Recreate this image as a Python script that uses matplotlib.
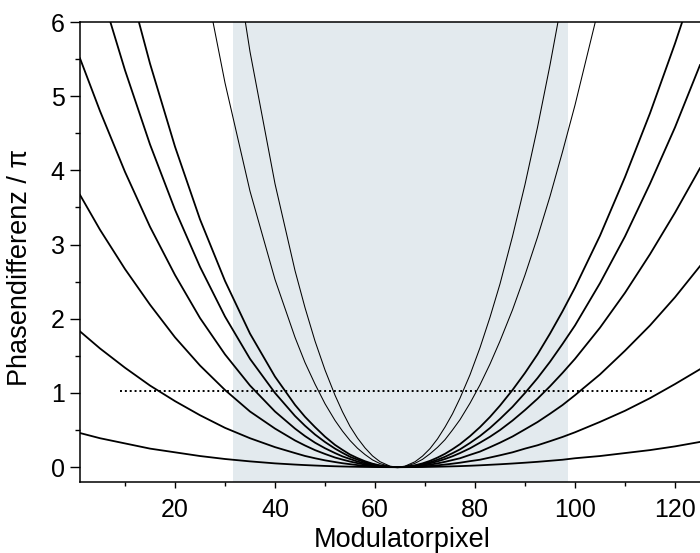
import numpy as np
import matplotlib
matplotlib.use('Agg')
import matplotlib.pyplot as plt
from matplotlib.ticker import MultipleLocator

plt.rcParams['font.family'] = ['Liberation Sans', 'DejaVu Sans']

nan = np.nan

pixel = [1, 5, 10, 15, 20, 25, 30, 35, 40, 44, 46, 48, 50, 52, 53.5, 55, 56.5, 58, 59.5, 61, 63, 64.5,
         66, 68, 69.5, 71, 72.5, 74, 75.5, 77, 79, 81, 83, 85, 87.5, 90, 92.5, 95, 97.5, 100,
         105, 110, 115, 120, 125]

# phase difference in units of pi, flattest curve first
phase_1 = [0.46, 0.39, 0.32, 0.25, 0.20, 0.15, 0.11, 0.078, 0.051, 0.035, 0.028, 0.022, 0.0165, 0.012, 0.0092,
           0.0067, 0.0047, 0.0031, 0.0018, 0.0009, 0.0002, 0,
           0.0002, 0.0011, 0.0023, 0.0039, 0.0059, 0.0083, 0.011, 0.014, 0.019, 0.025, 0.032, 0.039, 0.049,
           0.060, 0.072, 0.086, 0.10, 0.12, 0.15, 0.19, 0.23, 0.28, 0.34]
phase_2 = [1.83, 1.60, 1.34, 1.10, 0.89, 0.70, 0.53, 0.39, 0.27, 0.19, 0.151, 0.12, 0.092, 0.069, 0.053,
           0.040, 0.028, 0.019, 0.011, 0.005, 0.001, 0,
           0.0009, 0.005, 0.0097, 0.016, 0.025, 0.035, 0.047, 0.060, 0.081, 0.10, 0.13, 0.16, 0.20,
           0.25, 0.295, 0.35, 0.407, 0.47, 0.61, 0.76, 0.93, 1.12, 1.32]
phase_3 = [3.67, 3.20, 2.67, 2.19, 1.75, 1.37, 1.04, 0.75, 0.52, 0.36, 0.292, 0.23, 0.178, 0.13, 0.102,
           0.076, 0.054, 0.035, 0.021, 0.010, 0.0019, 0,
           0.0018, 0.010, 0.020, 0.034, 0.051, 0.072, 0.096, 0.12, 0.166, 0.21, 0.269, 0.33, 0.413,
           0.51, 0.608, 0.72, 0.837, 0.97, 1.25, 1.57, 1.91, 2.29, 2.71]
phase_4 = [5.51, 4.80, 3.98, 3.24, 2.59, 2.01, 1.52, 1.10, 0.75, 0.52, 0.419, 0.33, 0.255, 0.19, 0.145,
           0.11, 0.076, 0.050, 0.030, 0.014, 0.0026, 0,
           0.0028, 0.015, 0.031, 0.052, 0.078, 0.11, 0.147, 0.19, 0.254, 0.33, 0.41, 0.50, 0.628,
           0.77, 0.922, 1.09, 1.27, 1.46, 1.88, 2.35, 2.87, 3.43, 4.03]
phase_5 = [7.44, 6.46, 5.35, 4.35, 3.47, 2.70, 2.03, 1.46, 1.00, 0.69, 0.558, 0.44, 0.339, 0.25, 0.193,
           0.14, 0.101, 0.066, 0.039, 0.019, 0.0035, 0,
           0.0035, 0.019, 0.039, 0.066, 0.10, 0.14, 0.188, 0.24, 0.326, 0.42, 0.528, 0.65, 0.813,
           1.00, 1.20, 1.42, 1.66, 1.91, 2.48, 3.11, 3.82, 4.58, 5.42]
phase_6 = [nan, nan, 6.70, 5.44, 4.32, 3.34, 2.51, 1.80, 1.22, 0.84, 0.679, 0.54, 0.411, 0.30, 0.233,
           0.17, 0.122, 0.080, 0.047, 0.023, 0.0042, 0,
           0.0046, 0.025, 0.051, 0.085, 0.129, 0.18, 0.242, 0.31, 0.418, 0.54, 0.677, 0.83, 1.04,
           1.27, 1.52, 1.80, 2.10, 2.42, 3.12, 3.91, 4.77, 5.71, 6.72]
phase_7 = [nan, nan, nan, nan, nan, 6.89, 5.18, 3.72, 2.53, 1.75, 1.41, 1.12, 0.855, 0.63, 0.486,
           0.36, 0.255, 0.17, 0.098, 0.048, 0.0087, 0,
           0.0095, 0.052, 0.105, 0.18, 0.267, 0.37, 0.501, 0.64, 0.862, 1.11, 1.39, 1.70, 2.12,
           2.59, 3.10, 3.65, 4.25, 4.88, 6.26, nan, nan, nan, nan]
phase_8 = [nan, nan, nan, nan, nan, nan, 7.75, 5.60, 3.82, 2.65, 2.15, 1.70, 1.31, 0.97, 0.746,
           0.55, 0.392, 0.26, 0.152, 0.074, 0.0135, 0,
           0.0135, 0.073, 0.149, 0.25, 0.381, 0.54, 0.719, 0.93, 1.245, 1.61, 2.02, 2.47, 3.11,
           3.81, 4.58, 5.42, 6.33, 7.31, nan, nan, nan, nan, nan]

curves = [phase_1, phase_2, phase_3, phase_4, phase_5, phase_6, phase_7, phase_8]

# shaded modulator window and the pi threshold line
window = [31.5, 98.5]
threshold = 1.02
threshold_span = [9, 115.3]

fig = plt.figure(figsize=(7.0, 5.53), dpi=100)
# axis runs to pixel 128, the right part is cut off by the figure edge
ax = fig.add_axes([80 / 700, 71 / 553, 635 / 700, 460 / 553])

ax.axvspan(window[0], window[1], color='#e3eaee', lw=0, zorder=0)

for i, ph in enumerate(curves):
    lw = 0.75 if i >= 6 else 1.3
    ax.plot(pixel, ph, color='black', lw=lw, zorder=2)

ax.plot(threshold_span, [threshold, threshold], color='black', lw=1.4,
        linestyle=(0, (1.0, 1.5)), zorder=3)

ax.set_xlim(1, 128)
ax.set_ylim(-0.2, 6)

ax.xaxis.set_major_locator(MultipleLocator(20))
ax.xaxis.set_minor_locator(MultipleLocator(10))
ax.yaxis.set_major_locator(MultipleLocator(1))
ax.yaxis.set_minor_locator(MultipleLocator(0.5))

ax.tick_params(axis='x', which='major', direction='out', length=4.5, width=1, labelsize=18, pad=7)
ax.tick_params(axis='x', which='minor', direction='out', length=3, width=1)
ax.tick_params(axis='y', which='major', direction='out', length=7, width=1, labelsize=18, pad=4)
ax.tick_params(axis='y', which='minor', direction='out', length=3.6, width=1)

ax.spines['right'].set_visible(False)
for s in ['left', 'bottom', 'top']:
    ax.spines[s].set_linewidth(1.1)

ax.set_xlabel('Modulatorpixel', fontsize=19.5)
ax.set_ylabel('Phasendifferenz / \u03c0', fontsize=19.5)
ax.xaxis.set_label_coords(0.507, -0.098)
ax.yaxis.set_label_coords(-0.074, 0.467)

fig.savefig('out.png', dpi=100)
